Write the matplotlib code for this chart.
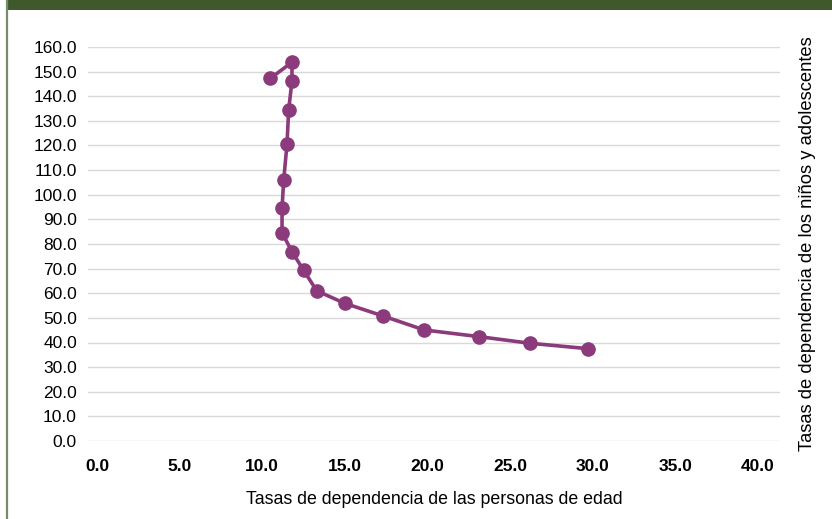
import matplotlib
matplotlib.use("Agg")
import matplotlib.pyplot as plt
from matplotlib.patches import Rectangle
from matplotlib.lines import Line2D

plt.rcParams['font.family'] = ['Liberation Sans', 'DejaVu Sans']

# Data
old_age_dependency = [10.5, 11.8, 11.8, 11.6, 11.5, 11.3, 11.2, 11.2, 11.8, 12.5,
                      13.3, 15.0, 17.3, 19.8, 23.1, 26.2, 29.7]
youth_dependency = [147.3, 153.8, 146.2, 134.4, 120.5, 106.0, 94.5, 84.6, 76.9, 69.4,
                    61.0, 55.9, 50.8, 45.1, 42.4, 39.7, 37.5]

x_ticks = [0, 5, 10, 15, 20, 25, 30, 35, 40]
y_ticks = list(range(0, 161, 10))
x_label = "Tasas de dependencia de las personas de edad"
y_label = "Tasas de dependencia de los niños y adolescentes"

fig = plt.figure(figsize=(8.32, 5.19), dpi=100)
fig.patch.set_facecolor('white')

# Header bar and left border
fig.patches.append(Rectangle((6/832, 1 - 10/519), 1, 10/519, transform=fig.transFigure,
                             facecolor='#40592c', edgecolor='none', zorder=0))
fig.lines.append(Line2D([6.5/832, 6.5/832], [0, 1], transform=fig.transFigure,
                        color='#758d68', linewidth=1.6))

ax = fig.add_axes([88/832, (519-441)/519, (780-88)/832, (441-47)/519])
ax.plot(old_age_dependency, youth_dependency, color='#8b3a7b', linewidth=2.6,
        marker='o', markersize=9.5, markerfacecolor='#8b3a7b', markeredgecolor='#8b3a7b',
        zorder=3, clip_on=False)

ax.set_ylim(0, 160)
ax.set_xlim(-0.545, 41.34)
ax.set_yticks(y_ticks)
ax.set_yticklabels([f"{v:.1f}" for v in y_ticks], fontsize=12.5)
ax.set_xticks(x_ticks)
ax.set_xticklabels([f"{v:.1f}" for v in x_ticks], fontsize=12.5, fontweight='bold')
ax.tick_params(axis='both', length=0, colors='black')
ax.tick_params(axis='y', pad=8)
ax.tick_params(axis='x', pad=13)
ax.grid(axis='y', color='#d9d9d9', linewidth=1.0)
ax.set_axisbelow(True)
for s in ax.spines.values():
    s.set_visible(False)

ax.set_xlabel(x_label, fontsize=12.8, labelpad=12)
ax.yaxis.set_label_position('right')
ax.set_ylabel(y_label, fontsize=13.2, labelpad=14)

fig.savefig('out.png', dpi=100)
